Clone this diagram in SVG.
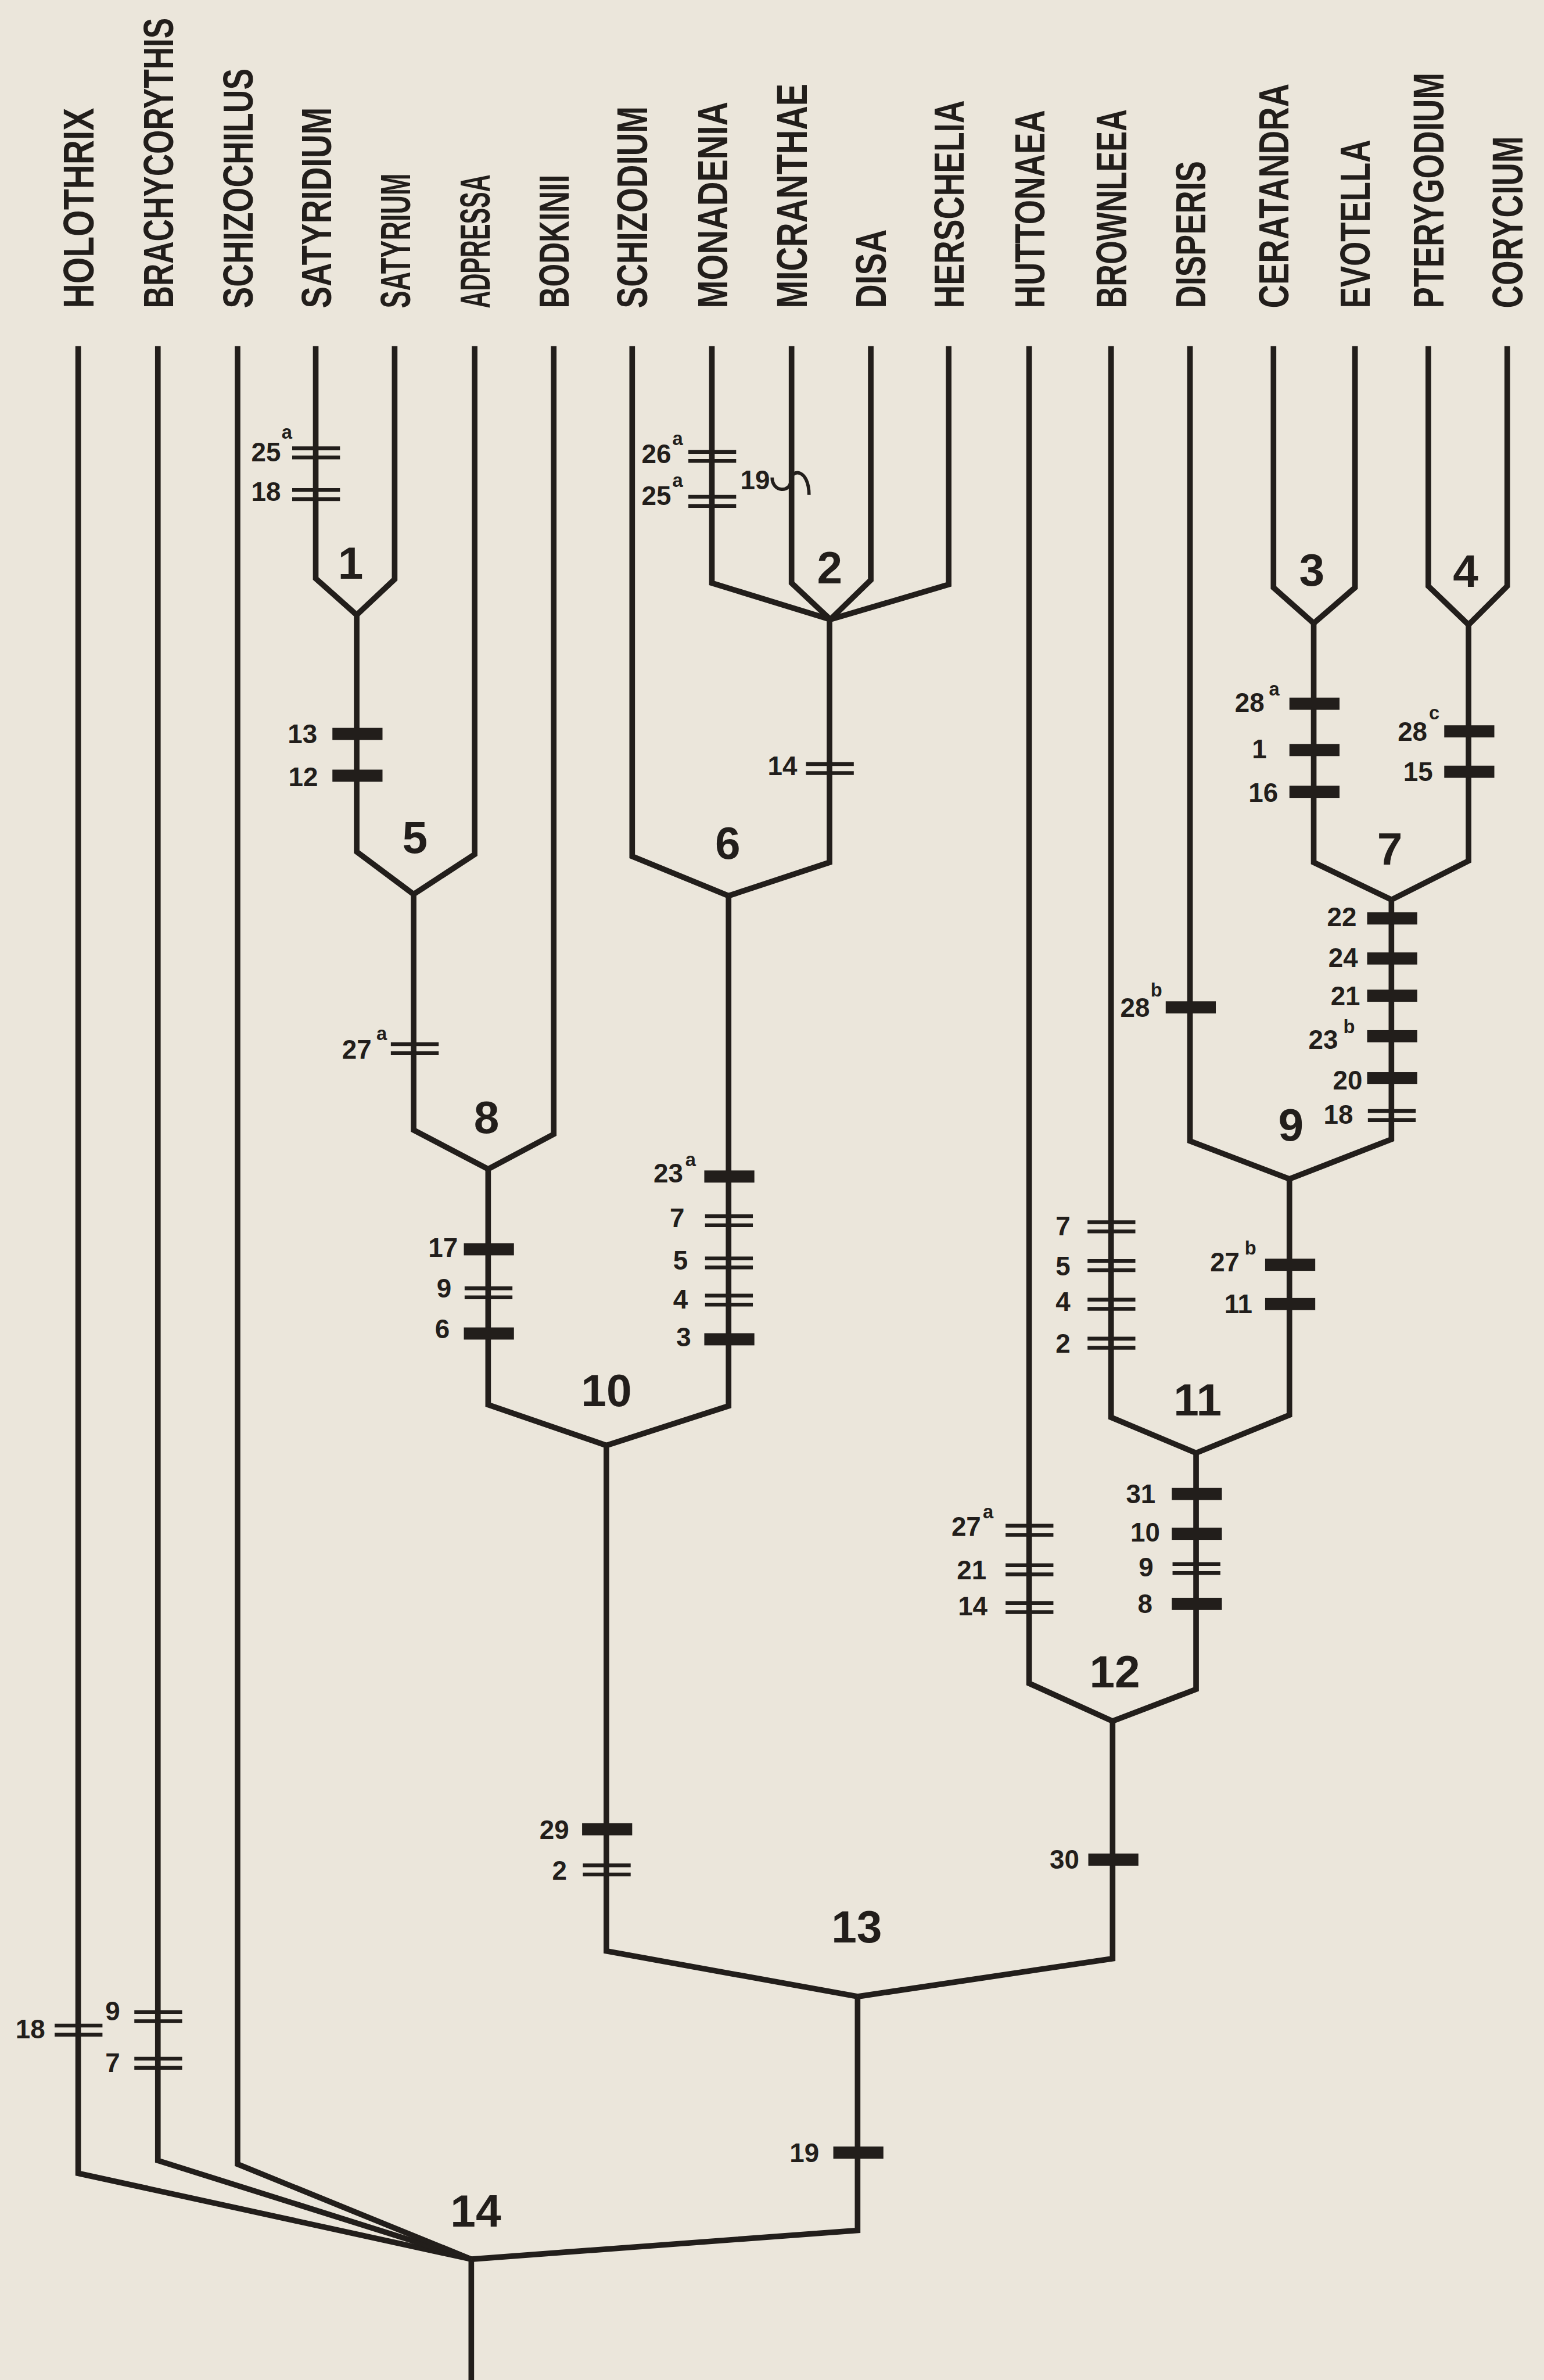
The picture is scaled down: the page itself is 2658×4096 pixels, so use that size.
<svg xmlns="http://www.w3.org/2000/svg" xmlns:xlink="http://www.w3.org/1999/xlink" width="2658" height="4096" viewBox="0 0 2658 4096">
<style>
.bg{fill:#ebe6db}
.br{fill:none;stroke:#221e1b;stroke-width:3.7;stroke-linejoin:miter;stroke-miterlimit:6}
.dl{stroke:#221e1b;stroke-width:2.5}
.bar{fill:#221e1b}
.sq{fill:none;stroke:#221e1b;stroke-width:2.2}
text{font-family:"Liberation Sans",Arial,sans-serif;fill:#221e1b;font-weight:bold}
.tx{font-size:28px}
.nd{font-size:30px;text-anchor:middle}
.m{font-size:17.5px;text-anchor:end}
.s{font-size:12.5px}
</style>
<defs>
<g id="dbl"><line class="dl" x1="-15.5" y1="-3" x2="16" y2="-3"/><line class="dl" x1="-15.5" y1="3" x2="16" y2="3"/></g>
<rect id="bar" class="bar" x="-16" y="-4" width="33" height="8"/>
</defs>
<rect class="bg" x="0" y="0" width="2658" height="4096"/>
<g transform="scale(2.613)">
<g id="connectors">
<path class="br" d="M208,228 V381 L235,405"/>
<path class="br" d="M260,228 V381.5 L235,405"/>
<path class="br" d="M235,405 V561 L272.5,589"/>
<path class="br" d="M312.7,228 V562.7 L272.5,589"/>
<path class="br" d="M272.5,589 V744.3 L321.6,770"/>
<path class="br" d="M364.8,228 V747 L321.6,770"/>
<path class="br" d="M321.6,770 V925.2 L399.5,952"/>
<path class="br" d="M416.5,228 V564 L480,590"/>
<path class="br" d="M469,228 V384 L547,408"/>
<path class="br" d="M521.5,228 V384 L547,408"/>
<path class="br" d="M573.7,228 V382 L547,408"/>
<path class="br" d="M625,228 V385 L547,408"/>
<path class="br" d="M546.5,408 V568 L480,590"/>
<path class="br" d="M480,590 V926 L399.5,952"/>
<path class="br" d="M399.5,952 V1285 L565,1315"/>
<path class="br" d="M678,228 V1108.7 L733,1133.6"/>
<path class="br" d="M732,228 V933.5 L788,957"/>
<path class="br" d="M784,228 V751.5 L849.5,776.5"/>
<path class="br" d="M839,228 V387 L865.5,410.5"/>
<path class="br" d="M892.7,228 V387 L865.5,410.5"/>
<path class="br" d="M941,228 V386 L967.5,411.5"/>
<path class="br" d="M993,228 V386 L967.5,411.5"/>
<path class="br" d="M865.5,410.5 V568 L916.7,592.6"/>
<path class="br" d="M967.5,411.5 V567 L916.7,592.6"/>
<path class="br" d="M916.7,592.6 V750.4 L849.5,776.5"/>
<path class="br" d="M849.5,776.5 V932 L788,957"/>
<path class="br" d="M788,957 V1112.6 L733,1133.6"/>
<path class="br" d="M733,1133.6 V1290 L565,1315"/>
<path class="br" d="M565,1315 V1469 L310.5,1488"/>
<path class="br" d="M51.5,228 V1431.4 L310.5,1488"/>
<path class="br" d="M104,228 V1423 L310.5,1488"/>
<path class="br" d="M156.5,228 V1425.4 L310.5,1488"/>
<path class="br" d="M310.5,1488 V1572"/>
</g>
<g id="taxa">
<g id="t-holothrix"><text class="tx" transform="translate(61.5,203) rotate(-90) scale(0.800,1)">HOLOTHRIX</text></g>
<g id="t-brachycorythis"><text class="tx" transform="translate(114,203) rotate(-90) scale(0.726,1)">BRACHYCORYTHIS</text></g>
<g id="t-schizochilus"><text class="tx" transform="translate(166.5,203) rotate(-90) scale(0.752,1)">SCHIZOCHILUS</text></g>
<g id="t-satyridium"><text class="tx" transform="translate(218,203) rotate(-90) scale(0.769,1)">SATYRIDIUM</text></g>
<g id="t-satyrium"><text class="tx" transform="translate(270,203) rotate(-90) scale(0.616,1)">SATYRIUM</text></g>
<g id="t-adpressa"><text class="tx" transform="translate(322.5,203) rotate(-90) scale(0.566,1)">ADPRESSA</text></g>
<g id="t-bodkinii"><text class="tx" transform="translate(374.5,203) rotate(-90) scale(0.698,1)">BODKINII</text></g>
<g id="t-schizodium"><text class="tx" transform="translate(426.5,203) rotate(-90) scale(0.750,1)">SCHIZODIUM</text></g>
<g id="t-monadenia"><text class="tx" transform="translate(479,203) rotate(-90) scale(0.788,1)">MONADENIA</text></g>
<g id="t-micranthae"><text class="tx" transform="translate(531.5,203) rotate(-90) scale(0.786,1)">MICRANTHAE</text></g>
<g id="t-disa"><text class="tx" transform="translate(583.5,203) rotate(-90) scale(0.777,1)">DISA</text></g>
<g id="t-herschelia"><text class="tx" transform="translate(635,203) rotate(-90) scale(0.753,1)">HERSCHELIA</text></g>
<g id="t-huttonaea"><text class="tx" transform="translate(688,203) rotate(-90) scale(0.745,1)">HUTTONAEA</text></g>
<g id="t-brownleea"><text class="tx" transform="translate(742,203) rotate(-90) scale(0.714,1)">BROWNLEEA</text></g>
<g id="t-disperis"><text class="tx" transform="translate(794,203) rotate(-90) scale(0.742,1)">DISPERIS</text></g>
<g id="t-ceratandra"><text class="tx" transform="translate(849,203) rotate(-90) scale(0.765,1)">CERATANDRA</text></g>
<g id="t-evotella"><text class="tx" transform="translate(902.5,203) rotate(-90) scale(0.743,1)">EVOTELLA</text></g>
<g id="t-pterygodium"><text class="tx" transform="translate(951,203) rotate(-90) scale(0.748,1)">PTERYGODIUM</text></g>
<g id="t-corycium"><text class="tx" transform="translate(1003,203) rotate(-90) scale(0.748,1)">CORYCIUM</text></g>
</g>
<g id="nodes">
<g id="node-1"><text class="nd" x="231" y="381">1</text></g>
<g id="node-2"><text class="nd" x="546.6" y="384.4">2</text></g>
<g id="node-3"><text class="nd" x="864.3" y="385.8">3</text></g>
<g id="node-4"><text class="nd" x="965.6" y="386.4">4</text></g>
<g id="node-5"><text class="nd" x="273.4" y="562">5</text></g>
<g id="node-6"><text class="nd" x="479.5" y="565.7">6</text></g>
<g id="node-7"><text class="nd" x="915.6" y="569.5">7</text></g>
<g id="node-8"><text class="nd" x="320.5" y="746.2">8</text></g>
<g id="node-9"><text class="nd" x="850.5" y="751.3">9</text></g>
<g id="node-10"><text class="nd" x="399.5" y="926.1">10</text></g>
<g id="node-11"><text class="nd" x="789" y="932.2">11</text></g>
<g id="node-12"><text class="nd" x="734.4" y="1111.3">12</text></g>
<g id="node-13"><text class="nd" x="564.4" y="1279.2">13</text></g>
<g id="node-14"><text class="nd" x="313.4" y="1466.4">14</text></g>
</g>
<g id="marks">
<g id="m-satyridium">
<use xlink:href="#dbl" x="208" y="298.3"/><text class="m" x="185" y="304">25</text><text class="s" x="185.5" y="289">a</text>
<use xlink:href="#dbl" x="208" y="325.7"/><text class="m" x="185" y="329.8">18</text>
</g>
<g id="m-clade1">
<use xlink:href="#bar" x="235" y="483.4"/><text class="m" x="209" y="489.4">13</text>
<use xlink:href="#bar" x="235" y="510.9"/><text class="m" x="209.5" y="517.9">12</text>
</g>
<g id="m-clade5">
<use xlink:href="#dbl" x="273" y="690.7"/><text class="m" x="244.8" y="697.4">27</text><text class="s" x="248" y="685">a</text>
</g>
<g id="m-clade8">
<use xlink:href="#bar" x="321.6" y="822.8"/><text class="m" x="301.6" y="827.6">17</text>
<use xlink:href="#dbl" x="321.6" y="851.5"/><text class="m" x="297.4" y="854.4">9</text>
<use xlink:href="#bar" x="321.6" y="878.3"/><text class="m" x="296.3" y="881.2">6</text>
</g>
<g id="m-monadenia">
<use xlink:href="#dbl" x="469" y="300.6"/><text class="m" x="442.2" y="305">26</text><text class="s" x="443" y="293">a</text>
<use xlink:href="#dbl" x="469" y="330.2"/><text class="m" x="442.2" y="332.7">25</text><text class="s" x="443" y="320.7">a</text>
</g>
<g id="m-micranthae">
<text class="m" x="507.2" y="322.2">19</text>
<path class="sq" d="M508.7,314.5 C508.7,324.5 521,324.5 521,316.5 C521,308.5 533,308.5 533,326"/>
</g>
<g id="m-clade2">
<use xlink:href="#dbl" x="546.5" y="506.2"/><text class="m" x="525.2" y="510.6">14</text>
</g>
<g id="m-clade6">
<use xlink:href="#bar" x="480" y="774.9"/><text class="m" x="450" y="778.7">23</text><text class="s" x="451.5" y="768.2">a</text>
<use xlink:href="#dbl" x="480" y="804"/><text class="m" x="451" y="808.4">7</text>
<use xlink:href="#dbl" x="480" y="831.8"/><text class="m" x="453.2" y="836.2">5</text>
<use xlink:href="#dbl" x="480" y="856.3"/><text class="m" x="453.2" y="862">4</text>
<use xlink:href="#bar" x="480" y="882.1"/><text class="m" x="455.3" y="886.9">3</text>
</g>
<g id="m-clade10">
<use xlink:href="#bar" x="399.5" y="1204.8"/><text class="m" x="374.9" y="1211.3">29</text>
<use xlink:href="#dbl" x="399.5" y="1231.6"/><text class="m" x="373.5" y="1238.2">2</text>
</g>
<g id="m-clade3">
<use xlink:href="#bar" x="865.5" y="463.5"/><text class="m" x="833" y="469">28</text><text class="s" x="836" y="458.2">a</text>
<use xlink:href="#bar" x="865.5" y="494"/><text class="m" x="834.6" y="499.5">1</text>
<use xlink:href="#bar" x="865.5" y="521.5"/><text class="m" x="842" y="528.2">16</text>
</g>
<g id="m-clade4">
<use xlink:href="#bar" x="967.5" y="481.7"/><text class="m" x="940.3" y="488">28</text><text class="s" x="941.5" y="473.6">c</text>
<use xlink:href="#bar" x="967.5" y="508.3"/><text class="m" x="944" y="514.4">15</text>
</g>
<g id="m-clade7">
<use xlink:href="#bar" x="916.7" y="604.9"/><text class="m" x="893.8" y="610.2">22</text>
<use xlink:href="#bar" x="916.7" y="631.3"/><text class="m" x="894.6" y="636.9">24</text>
<use xlink:href="#bar" x="916.7" y="655.8"/><text class="m" x="896.1" y="662.1">21</text>
<use xlink:href="#bar" x="916.7" y="682.5"/><text class="m" x="881.5" y="690.9">23</text><text class="s" x="885" y="680.4">b</text>
<use xlink:href="#bar" x="916.7" y="710.1"/><text class="m" x="897.6" y="717.6">20</text>
<use xlink:href="#dbl" x="916.7" y="734.7"/><text class="m" x="891.5" y="740.1">18</text>
</g>
<g id="m-disperis">
<use xlink:href="#bar" x="784" y="663.5"/><text class="m" x="757.5" y="669.9">28</text><text class="s" x="758" y="656.5">b</text>
</g>
<g id="m-clade9">
<use xlink:href="#bar" x="849.5" y="833"/><text class="m" x="816.7" y="837.2">27</text><text class="s" x="820" y="826.2">b</text>
<use xlink:href="#bar" x="849.5" y="858.9"/><text class="m" x="825.1" y="865">11</text>
</g>
<g id="m-brownleea">
<use xlink:href="#dbl" x="732" y="808"/><text class="m" x="705.2" y="813.5">7</text>
<use xlink:href="#dbl" x="732" y="833.6"/><text class="m" x="705.2" y="840">5</text>
<use xlink:href="#dbl" x="732" y="859"/><text class="m" x="705.2" y="863.3">4</text>
<use xlink:href="#dbl" x="732" y="884.7"/><text class="m" x="705.2" y="891">2</text>
</g>
<g id="m-clade11">
<use xlink:href="#bar" x="788" y="984"/><text class="m" x="761.3" y="990">31</text>
<use xlink:href="#bar" x="788" y="1010.2"/><text class="m" x="764.2" y="1015.3">10</text>
<use xlink:href="#dbl" x="788" y="1033.1"/><text class="m" x="759.9" y="1038.3">9</text>
<use xlink:href="#bar" x="788" y="1056.4"/><text class="m" x="759.3" y="1062.5">8</text>
</g>
<g id="m-huttonaea">
<use xlink:href="#dbl" x="678" y="1007.9"/><text class="m" x="646.3" y="1011.5">27</text><text class="s" x="647.5" y="1000">a</text>
<use xlink:href="#dbl" x="678" y="1033.9"/><text class="m" x="649.9" y="1040.2">21</text>
<use xlink:href="#dbl" x="678" y="1058.8"/><text class="m" x="650.6" y="1064.1">14</text>
</g>
<g id="m-clade12">
<use xlink:href="#bar" x="733" y="1224.8"/><text class="m" x="711" y="1230.9">30</text>
</g>
<g id="m-clade13">
<use xlink:href="#bar" x="565" y="1417.8"/><text class="m" x="539.7" y="1424">19</text>
</g>
<g id="m-holothrix">
<use xlink:href="#dbl" x="51.5" y="1337.1"/><text class="m" x="29.7" y="1342.7">18</text>
</g>
<g id="m-brachycorythis">
<use xlink:href="#dbl" x="104" y="1328.2"/><text class="m" x="79.1" y="1330.8">9</text>
<use xlink:href="#dbl" x="104" y="1358.9"/><text class="m" x="79.1" y="1364.9">7</text>
</g>
</g>
</g>
</svg>
